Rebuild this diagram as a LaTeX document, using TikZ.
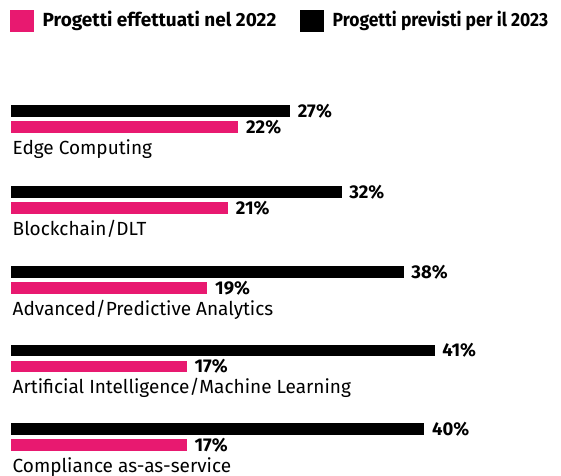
\documentclass[tikz,border=0pt]{standalone}
\usepackage{fontspec}
\setmainfont{Fira Sans}
\definecolor{pinkbar}{RGB}{232,25,112}
\tikzset{
  pct/.style={anchor=west,inner sep=0pt,font=\fontsize{18.5}{18.5}\selectfont\bfseries},
  cat/.style={anchor=base west,inner sep=0pt,font=\fontsize{19}{19}\selectfont},
  leg/.style={anchor=base west,inner sep=0pt,font=\fontsize{19}{19}\selectfont\bfseries},
}
\begin{document}
\begin{tikzpicture}[x=1pt,y=-1pt]
\useasboundingbox (0,0) rectangle (561,475);
% legend
\fill[pinkbar] (10,10) rectangle (33.5,31.7);
\node[leg] (l1) at (42.5,26.7) {Progetti effettuati nel 2022};
\fill[black] (300,10) rectangle (323.5,31.7);
\node[leg] (l2) at (332.5,26.7) {\scalebox{0.92}[1]{Progetti previsti per il 2023}};
% groups: top of black bar, 2023 value, 2022 value, label
\foreach \t/\a/\b/\lab/\n in {105/27/22/{Edge Computing}/g1, 186/32/21/{Blockchain/DLT}/g2, 266/38/19/{Advanced/Predictive Analytics}/g3, 344.5/41/17/{Artificial Intelligence/Machine Learning}/g4, 423.3/40/17/{Compliance as-as-service}/g5}{
  \pgfmathsetmacro{\xa}{11+10.33*\a}
  \pgfmathsetmacro{\xb}{11+10.33*\b}
  \fill[black] (11,\t) rectangle (\xa,\t+11.7);
  \fill[pinkbar] (11,\t+16) rectangle (\xb,\t+27.7);
  \node[pct] (\n a) at (\xa+7.7,\t+6) {\a\%};
  \node[pct] (\n b) at (\xb+7.7,\t+22) {\b\%};
  \node[cat] (\n l) at (12.5,\t+49.3) {\lab};
}
\end{tikzpicture}
\end{document}
